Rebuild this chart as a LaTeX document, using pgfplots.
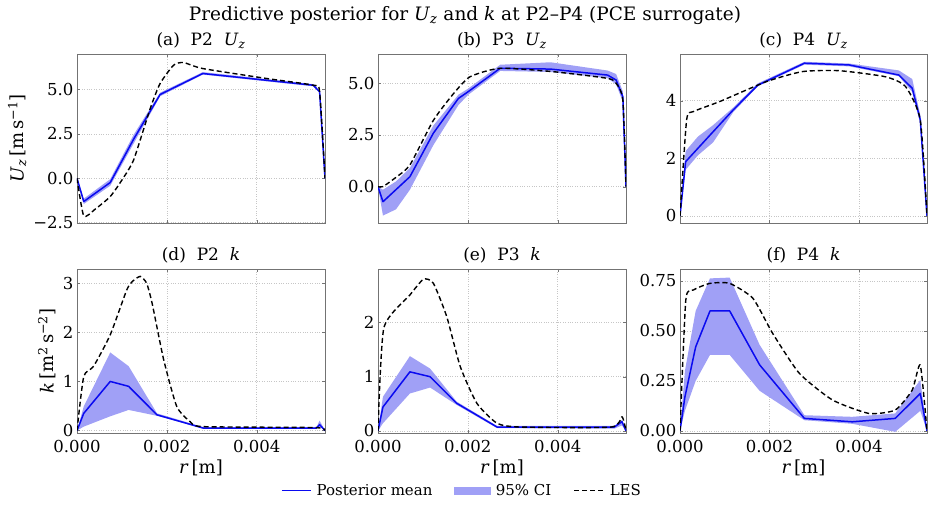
\documentclass[border=0pt]{standalone}
\usepackage{fontspec}
\setmainfont{DejaVu Serif}
\usepackage{pgfplots}
\pgfplotsset{compat=1.18}
\definecolor{meanblue}{RGB}{10,10,240}
\definecolor{bandblue}{RGB}{160,160,246}
\definecolor{framegray}{RGB}{115,115,115}
\newcommand{\Uz}{\textit{U}\textsubscript{\textit{z}}}
\tikzset{
  meanl/.style={meanblue, line width=1.5pt, line join=round},
  lesl/.style={black, line width=1.4pt, dash pattern=on 5pt off 3pt, line join=round, smooth, tension=0.35},
  band/.style={fill=bandblue, draw=none},
}
\pgfplotsset{
  panel/.style={
    scale only axis, width=248pt,
    xmin=0, xmax=0.00552, scaled x ticks=false,
    axis line style={framegray, line width=0.8pt},
    grid=major, grid style={dotted, gray!45, line width=0.6pt},
    tick align=inside, major tick length=3pt, tick style={framegray},
    xtick={0,0.002,0.004},
    ticklabel style={font=\fontsize{16.5}{19}\selectfont, inner ysep=0.5pt},
    xticklabel style={yshift=-7pt},
    label style={font=\fontsize{18}{21}\selectfont},
    title style={font=\fontsize{17}{20}\selectfont, yshift=-4pt},
    anchor=north west,
  },
  toprow/.style={height=169pt, xticklabels={}},
  botrow/.style={height=164pt, xticklabels={0.000,0.002,0.004}, xlabel={\textit{r}\,[m]},
    xlabel style={yshift=-3pt}},
}
\begin{document}
\begin{tikzpicture}
\node[font=\fontsize{18.5}{22}\selectfont] at (465pt,-16pt) {Predictive posterior for \Uz{} and \textit{k} at P2–P4 (PCE surrogate)};

% (a)
\begin{axis}[panel, toprow, at={(77pt,-54pt)}, ymin=-2.52, ymax=7.0,
  ytick={-2.5,0,2.5,5}, yticklabels={−2.5,0.0,2.5,5.0},
  ylabel={\Uz\,[m\,s\textsuperscript{−1}]},
  title={(a)\ \ P2\ \ \Uz}]
% 95% CI: upper bound left to right, then lower bound right to left
\addplot[band, forget plot] coordinates {(0,0) (0.00015,-1.15) (0.00074,-0.05) (0.00126,2.45) (0.00185,4.82) (0.0028,5.98) (0.00526,5.3) (0.0054,4.93) (0.00552,0)
 (0.0054,4.82) (0.00526,5.18) (0.0028,5.84) (0.00185,4.62) (0.00126,1.95) (0.00074,-0.42) (0.00015,-1.45) (0,0)};
\addplot[meanl] coordinates {(0,0) (0.00015,-1.31) (0.00074,-0.24) (0.00126,2.2) (0.00185,4.72) (0.0028,5.9) (0.00526,5.24) (0.0054,4.87) (0.00552,0)};
\addplot[lesl] coordinates {(0,0) (0.00015,-2.12) (0.0004,-1.75) (0.00074,-1.03) (0.001,-0.1) (0.00126,1.03) (0.00163,3.93) (0.00185,5.34) (0.00215,6.37) (0.00237,6.52) (0.0028,6.18) (0.00422,5.62) (0.00526,5.24) (0.0054,4.87) (0.00552,0)};
\end{axis}

% (b)
\begin{axis}[panel, toprow, at={(378pt,-54pt)}, ymin=-1.76, ymax=6.42,
  ytick={0,2.5,5}, yticklabels={0.0,2.5,5.0},
  title={(b)\ \ P3\ \ \Uz}]
\addplot[band, forget plot] coordinates {(0,0) (0.00011,-0.15) (0.0004,0.25) (0.00071,0.9) (0.00123,2.95) (0.00179,4.45) (0.00201,4.75) (0.00272,5.9) (0.00384,6.02) (0.00511,5.62) (0.0053,5.45) (0.00545,4.6) (0.00552,0)
 (0.00545,4.1) (0.0053,4.95) (0.00511,5.25) (0.00384,5.55) (0.00272,5.6) (0.00201,4.45) (0.00179,3.95) (0.00123,2.0) (0.00071,-0.15) (0.0004,-1.1) (0.00011,-1.4) (0,0)};
\addplot[meanl] coordinates {(0,0) (0.00011,-0.73) (0.00071,0.48) (0.00123,2.58) (0.00179,4.27) (0.00201,4.6) (0.00272,5.73) (0.00384,5.69) (0.00511,5.40) (0.0053,5.16) (0.00545,4.35) (0.00552,0)};
\addplot[lesl] coordinates {(0,0) (0.00011,0) (0.0004,0.45) (0.00071,1.05) (0.00123,3.2) (0.00168,4.5) (0.00205,5.32) (0.00272,5.73) (0.00392,5.56) (0.00511,5.24) (0.0053,5.0) (0.00545,4.19) (0.00552,0)};
\end{axis}

% (c)
\begin{axis}[panel, toprow, at={(680pt,-54pt)}, width=247pt, ymin=-0.25, ymax=5.62,
  ytick={0,2,4}, yticklabels={0,2,4},
  title={(c)\ \ P4\ \ \Uz}]
\addplot[band, forget plot] coordinates {(0,0) (0.000126,2.25) (0.0004,2.75) (0.00074,3.15) (0.00119,3.76) (0.00174,4.6) (0.00278,5.35) (0.00378,5.29) (0.00489,5.05) (0.00519,4.75) (0.00537,3.5) (0.00552,0)
 (0.00537,3.2) (0.00519,4.3) (0.00489,4.85) (0.00378,5.19) (0.00278,5.25) (0.00174,4.5) (0.00119,3.6) (0.00074,2.55) (0.0004,2.1) (0.000126,1.6) (0,0)};
\addplot[meanl] coordinates {(0,0) (0.000126,1.88) (0.00074,2.92) (0.00119,3.68) (0.00174,4.54) (0.00196,4.70) (0.00278,5.30) (0.00378,5.24) (0.00489,4.89) (0.00519,4.43) (0.00537,3.33) (0.00552,0)};
\addplot[lesl] coordinates {(0,0) (0.000148,3.33) (0.0003,3.62) (0.00089,3.97) (0.00193,4.66) (0.00274,5.01) (0.00356,5.04) (0.00459,4.83) (0.00504,4.49) (0.00537,3.33) (0.00552,0)};
\end{axis}

% (d)
\begin{axis}[panel, botrow, at={(77pt,-269pt)}, ymin=-0.05, ymax=3.29,
  ytick={0,1,2,3}, yticklabels={0,1,2,3},
  ylabel={\textit{k}\,[m\textsuperscript{2}\,s\textsuperscript{−2}]},
  title={(d)\ \ P2\ \ \textit{k}}]
\addplot[band, forget plot] coordinates {(0,0) (0.00015,0.49) (0.00074,1.59) (0.00115,1.31) (0.00178,0.35) (0.00281,0.07) (0.00533,0.07) (0.0054,0.2) (0.00552,0)
 (0.0054,0.08) (0.00533,0.04) (0.00281,0.04) (0.00178,0.30) (0.00115,0.42) (0.00074,0.29) (0.00015,0.08) (0,0)};
\addplot[meanl] coordinates {(0,0) (0.00015,0.35) (0.00074,1.0) (0.00115,0.9) (0.00178,0.32) (0.00281,0.05) (0.00533,0.05) (0.0054,0.12) (0.00552,0)};
\addplot[lesl] coordinates {(0,0) (0.00015,1.1) (0.00037,1.31) (0.00074,1.95) (0.00111,2.87) (0.00125,3.05) (0.00141,3.14) (0.00155,3.0) (0.00167,2.6) (0.00193,1.44) (0.00222,0.49) (0.00252,0.18) (0.0028,0.08) (0.0053,0.06) (0.00552,0)};
\end{axis}

% (e)
\begin{axis}[panel, botrow, at={(378pt,-269pt)}, ymin=-0.04, ymax=2.99,
  ytick={0,1,2}, yticklabels={0,1,2},
  title={(e)\ \ P3\ \ \textit{k}},
  legend style={at={(0.339,-0.35)}, anchor=center, legend columns=3, draw=none, fill=none,
    font=\fontsize{15}{18}\selectfont,
    /tikz/every odd column/.append style={column sep=3pt},
    /tikz/every even column/.append style={column sep=20pt}},
  legend cell align=left]
\addlegendimage{legend image code/.code={\draw[meanl] (0pt,0pt) -- (29pt,0pt);}}
\addlegendentry{Posterior mean}
\addlegendimage{legend image code/.code={\fill[bandblue] (0pt,-3.5pt) rectangle (36pt,3.5pt);}}
\addlegendentry{95\% CI}
\addlegendimage{legend image code/.code={\draw[lesl] (0pt,0pt) -- (30pt,0pt);}}
\addlegendentry{LES}
\addplot[band, forget plot] coordinates {(0,0) (0.00011,0.63) (0.00071,1.38) (0.00116,1.15) (0.00175,0.54) (0.00265,0.09) (0.00526,0.09) (0.00543,0.2) (0.00552,0)
 (0.00543,0.1) (0.00526,0.04) (0.00265,0.05) (0.00175,0.48) (0.00116,0.8) (0.00071,0.69) (0.00011,0.14) (0,0)};
\addplot[meanl, forget plot] coordinates {(0,0) (0.00011,0.44) (0.00071,1.09) (0.00116,1.0) (0.00175,0.51) (0.00265,0.07) (0.00526,0.07) (0.00543,0.17) (0.00552,0)};
\addplot[lesl, forget plot] coordinates {(0,0) (0.00013,1.9) (0.00071,2.51) (0.00101,2.8) (0.00123,2.73) (0.00153,2.11) (0.00183,1.19) (0.0022,0.51) (0.00265,0.14) (0.00317,0.07) (0.00519,0.07) (0.00543,0.26) (0.00552,0)};
\end{axis}

% (f)
\begin{axis}[panel, botrow, at={(680pt,-269pt)}, width=247pt, ymin=-0.011, ymax=0.81,
  ytick={0,0.25,0.5,0.75}, yticklabels={0.00,0.25,0.50,0.75},
  title={(f)\ \ P4\ \ \textit{k}}]
\addplot[band, forget plot] coordinates {(0,0) (0.00011,0.3) (0.00035,0.6) (0.00067,0.763) (0.00111,0.767) (0.00178,0.43) (0.00278,0.078) (0.00385,0.07) (0.00481,0.087) (0.00537,0.254) (0.00552,0)
 (0.00537,0.10) (0.00481,-0.005) (0.00385,0.035) (0.00278,0.053) (0.00178,0.2) (0.00111,0.38) (0.00067,0.38) (0.00035,0.25) (0.00011,0.1) (0,0)};
\addplot[meanl] coordinates {(0,0) (0.00011,0.17) (0.00035,0.42) (0.00067,0.60) (0.00111,0.60) (0.00178,0.33) (0.00278,0.062) (0.00385,0.045) (0.00481,0.062) (0.00537,0.187) (0.00552,0)};
\addplot[lesl] coordinates {(0,0) (0.00013,0.655) (0.0003,0.705) (0.00067,0.738) (0.00111,0.738) (0.00163,0.663) (0.00207,0.488) (0.00267,0.287) (0.00341,0.154) (0.00422,0.087) (0.00481,0.104) (0.00519,0.204) (0.00537,0.329) (0.00552,0)};
\end{axis}
\path (0,0) rectangle (930pt,-505pt);
\end{tikzpicture}
\end{document}
